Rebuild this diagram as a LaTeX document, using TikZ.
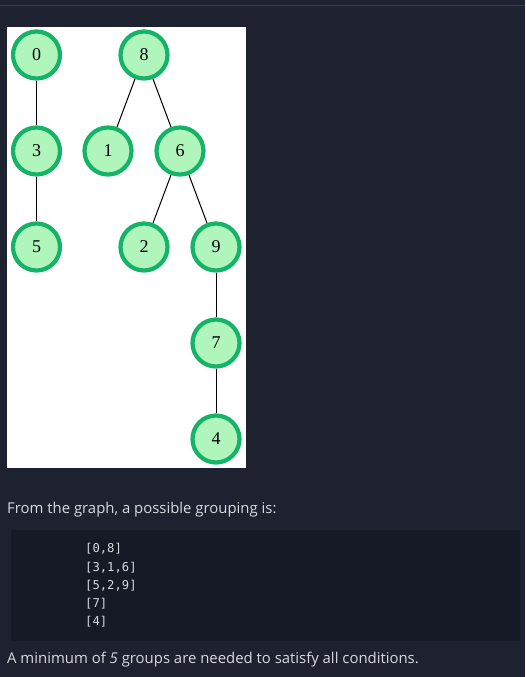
\documentclass[tikz,border=0pt]{standalone}
\usepackage{fontspec}
\setmainfont{Liberation Serif}
\setsansfont{Open Sans}
\setmonofont{DejaVu Sans Mono}
\usetikzlibrary{positioning}

\definecolor{pagebg}{HTML}{1E2230}
\definecolor{codebg}{HTML}{151A26}
\definecolor{rulecol}{HTML}{363B49}
\definecolor{txtcol}{HTML}{D6D9DE}
\definecolor{ringcol}{HTML}{14B366}
\definecolor{vertcol}{HTML}{B0F5BC}

\tikzset{
  vert/.style={circle,draw=ringcol,fill=vertcol,line width=4.2pt,minimum size=47pt,inner sep=0pt,font=\fontsize{18}{18}\selectfont},
  link/.style={line width=1pt,black},
  para/.style={anchor=west,text=txtcol,inner sep=0pt,font=\sffamily\fontsize{14.9}{17}\selectfont},
  codeline/.style={anchor=west,text=txtcol,inner sep=0pt,font=\ttfamily\fontsize{12.2}{14}\selectfont}
}

\begin{document}
\begin{tikzpicture}[x=1pt,y=-1pt]
  \fill[pagebg] (0,0) rectangle (525,677);
  \useasboundingbox (0,0) rectangle (525,677);
  \draw[rulecol,line width=1pt] (0,6)--(525,6);
  \fill[white] (7,27) rectangle (246,468);
  % vertices
  \node[vert] (v0) at (36.5,55){0};
  \node[vert] (v8) at (144,55){8};
  \node[vert] (v3) at (36.5,151){3};
  \node[vert] (v1) at (108,151){1};
  \node[vert] (v6) at (180,151){6};
  \node[vert] (v5) at (36.5,247){5};
  \node[vert] (v2) at (144,247){2};
  \node[vert] (v9) at (216,247){9};
  \node[vert] (v7) at (216,343){7};
  \node[vert] (v4) at (216,439){4};
  % edges
  \draw[link] (v0)--(v3);
  \draw[link] (v3)--(v5);
  \draw[link] (v8)--(v1);
  \draw[link] (v8)--(v6);
  \draw[link] (v6)--(v2);
  \draw[link] (v6)--(v9);
  \draw[link] (v9)--(v7);
  \draw[link] (v7)--(v4);
  % text below
  \node[para] (intro) at (7,510){From the graph, a possible grouping is:};
  \fill[codebg] (11,530) rectangle (520,641);
  \node[codeline] (g1) at (85,549){[0,8]};
  \node[codeline] (g2) at (85,567.5){[3,1,6]};
  \node[codeline] (g3) at (85,586){[5,2,9]};
  \node[codeline] (g4) at (85,604){[7]};
  \node[codeline] (g5) at (85,622){[4]};
  \node[para] (outro) at (7,660){A minimum of \textit{5} groups are needed to satisfy all conditions.};
\end{tikzpicture}
\end{document}
